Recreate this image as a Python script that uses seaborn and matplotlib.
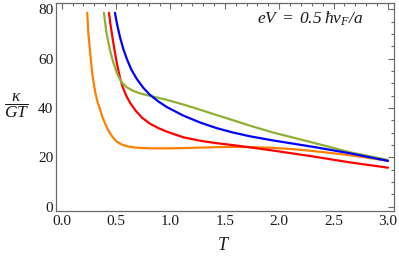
import matplotlib
matplotlib.use("Agg")
import matplotlib.pyplot as plt
import seaborn as sns
import pandas as pd
from matplotlib.ticker import MultipleLocator

# ---- data ----
blue_T = [0.49, 0.51, 0.536, 0.566, 0.60, 0.64, 0.69, 0.75, 0.812, 0.89, 0.965, 1.118, 1.271, 1.425, 1.577, 1.73, 1.945, 2.313, 2.65, 3.0]
blue_y = [78.6, 73.8, 68.8, 64.0, 59.8, 55.6, 51.8, 48.2, 45.3, 42.6, 40.4, 36.9, 34.1, 31.8, 30.0, 28.5, 26.8, 24.2, 21.6, 18.5]

green_T = [0.389, 0.40, 0.413, 0.43, 0.444, 0.46, 0.474, 0.49, 0.505, 0.52, 0.536, 0.56, 0.597, 0.658, 0.72, 0.812, 0.965, 1.118, 1.271, 1.425, 1.577, 1.731, 1.945, 2.313, 2.65, 3.0]
green_y = [78.6, 74.5, 70.3, 66.5, 63.5, 60.8, 58.6, 56.5, 54.6, 53.0, 51.6, 50.0, 48.4, 46.9, 45.9, 44.9, 43.3, 41.4, 39.3, 37.1, 35.0, 32.8, 30.0, 25.9, 22.0, 18.9]

red_T = [0.435, 0.45, 0.47, 0.49, 0.51, 0.536, 0.56, 0.59, 0.63, 0.68, 0.74, 0.812, 0.89, 0.965, 1.118, 1.271, 1.425, 1.577, 1.731, 1.945, 2.313, 2.65, 3.0]
red_y = [78.6, 73.5, 67.8, 62.5, 57.5, 52.3, 48.7, 45.3, 42.0, 38.9, 36.0, 33.6, 31.8, 30.4, 28.1, 26.7, 25.7, 24.9, 24.0, 22.7, 20.3, 17.9, 15.75]

orange_T = [0.235, 0.245, 0.26, 0.275, 0.29, 0.31, 0.33, 0.35, 0.375, 0.398, 0.42, 0.444, 0.47, 0.505, 0.55, 0.597, 0.66, 0.72, 0.83, 0.965, 1.118, 1.271, 1.425, 1.577, 1.731, 1.945, 2.15, 2.313, 2.5, 2.65, 2.8, 3.0]
orange_y = [78.6, 70.5, 63.5, 56.5, 51.3, 46.0, 42.5, 39.8, 36.3, 33.8, 31.6, 29.8, 28.1, 26.4, 25.2, 24.5, 24.0, 23.8, 23.6, 23.6, 23.7, 23.9, 24.1, 24.2, 24.1, 23.8, 23.2, 22.5, 21.6, 20.8, 19.9, 18.5]

x_ticks = [0.0, 0.5, 1.0, 1.5, 2.0, 2.5, 3.0]
x_tick_labels = ["0.0", "0.5", "1.0", "1.5", "2.0", "2.5", "3.0"]
y_ticks = [0, 20, 40, 60, 80]
y_tick_labels = ["0", "20", "40", "60", "80"]

series = {"blue": (blue_T, blue_y), "green": (green_T, green_y),
          "red": (red_T, red_y), "orange": (orange_T, orange_y)}
palette = {"blue": "#0000FF", "green": "#8FB032", "red": "#FF0000", "orange": "#FF8000"}

rows = []
for name, (ts, ys) in series.items():
    for t, y in zip(ts, ys):
        rows.append({"T": t, "k": y, "s": name})
df = pd.DataFrame(rows)

sns.set_theme(style="white")
plt.rcParams["font.family"] = ["Liberation Serif", "DejaVu Serif"]
plt.rcParams["mathtext.fontset"] = "custom"
# all math text in this chart is italic (as in the reference)
plt.rcParams["mathtext.rm"] = "Liberation Serif:italic"
plt.rcParams["mathtext.it"] = "Liberation Serif:italic"
plt.rcParams["mathtext.bf"] = "Liberation Serif:bold"

fig = plt.figure(figsize=(3.99, 2.57), dpi=100)
ax = fig.add_axes([56/399, 1-210.7/257, (394.3-56)/399, (210.7-2.7)/257])

sns.lineplot(data=df, x="T", y="k", hue="s", palette=palette, estimator=None,
             sort=False, linewidth=1.6, legend=False, ax=ax,
             hue_order=["orange", "red", "green", "blue"])

ax.set_xlim(-0.052, 3.058)
ax.set_ylim(-1.7, 82.7)
ax.set_xticks(x_ticks)
ax.set_xticklabels(x_tick_labels)
ax.set_yticks(y_ticks)
ax.set_yticklabels(y_tick_labels)
ax.xaxis.set_minor_locator(MultipleLocator(0.1))
ax.yaxis.set_minor_locator(MultipleLocator(5))

spine_c = "#6a6a6a"
for sp in ax.spines.values():
    sp.set_color(spine_c)
    sp.set_linewidth(0.9)
    sp.set_visible(True)
ax.tick_params(which="both", direction="in", top=True, right=True,
               color=spine_c, width=0.8, labelsize=11, labelcolor="#1a1a1a")
ax.tick_params(axis="x", pad=3)
ax.tick_params(axis="y", pad=2)
ax.tick_params(which="major", length=4)
ax.tick_params(which="minor", length=2)

ax.set_xlabel(r"$T$", fontsize=13, color="#1a1a1a")
ax.xaxis.set_label_coords(0.494, -0.165)
ax.xaxis.label.set_va("center")
ax.set_ylabel(r"$\dfrac{\kappa}{GT}$", fontsize=12.5, rotation=0, color="#1a1a1a",
              va="center", ha="center")
ax.yaxis.set_label_coords(-0.115, 0.505)

ax.text(0.752, 0.924, r"$eV\;=\;0.5\;\hbar v_F/a$", transform=ax.transAxes,
        fontsize=12.5, ha="center", va="center", color="#1a1a1a")

fig.savefig("out.png", dpi=100)
